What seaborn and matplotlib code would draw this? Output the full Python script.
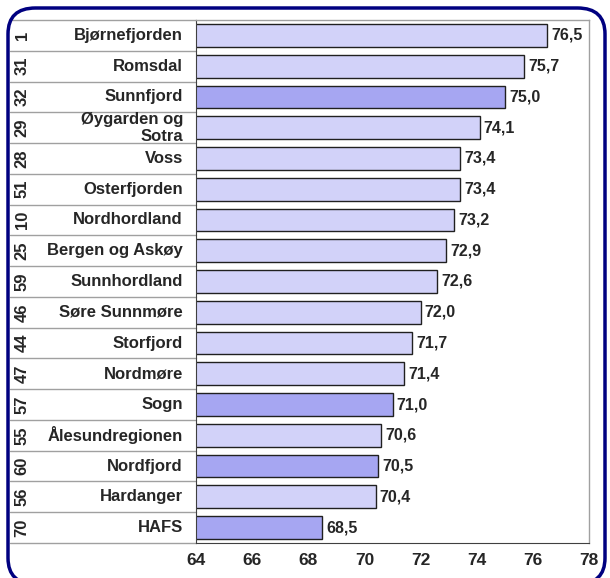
import pandas as pd
import matplotlib
matplotlib.use("Agg")
import matplotlib.pyplot as plt
import matplotlib.transforms as mtransforms
from matplotlib.patches import FancyBboxPatch
import seaborn as sns

# data, top to bottom
regions = ["Bjørnefjorden", "Romsdal", "Sunnfjord", "Øygarden og\nSotra", "Voss",
           "Osterfjorden", "Nordhordland", "Bergen og Askøy", "Sunnhordland",
           "Søre Sunnmøre", "Storfjord", "Nordmøre", "Sogn", "Ålesundregionen",
           "Nordfjord", "Hardanger", "HAFS"]
codes = ["1", "31", "32", "29", "28", "51", "10", "25", "59", "46", "44", "47",
         "57", "55", "60", "56", "70"]
values = [76.5, 75.7, 75.0, 74.1, 73.4, 73.4, 73.2, 72.9, 72.6, 72.0, 71.7,
          71.4, 71.0, 70.6, 70.5, 70.4, 68.5]
highlight = ["Sunnfjord", "Sogn", "Nordfjord", "HAFS"]

light = "#CCCCFF"
dark = "#9999FF"
colors = {r: (dark if r in highlight else light) for r in regions}

df = pd.DataFrame({"region": regions, "code": codes, "value": values})

sns.set_style("white")
plt.rcParams["font.family"] = ["Liberation Sans", "DejaVu Sans"]

fig = plt.figure(figsize=(6.10, 5.78), dpi=100)
ax = fig.add_axes([196 / 610, 1 - 543 / 578, 393 / 610, 523 / 578])

sns.barplot(data=df, x="value", y="region", hue="region", palette=colors,
            order=regions, legend=False, width=0.74, edgecolor="#202020",
            linewidth=1.0, ax=ax)

ax.set_xlim(64, 78)
ax.set_ylim(len(regions) - 0.5, -0.5)
ax.set_xticks(range(64, 79, 2))
ax.set_xticklabels([str(t) for t in range(64, 79, 2)], fontsize=12.5,
                   fontweight="bold")
ax.tick_params(axis="x", direction="out", length=4, width=0.8, pad=3,
               color="#404040")
ax.tick_params(axis="y", length=0)
ax.set_yticklabels([])
ax.set_xlabel("")
ax.set_ylabel("")

for side in ["top", "right"]:
    ax.spines[side].set_color("#A0A0A0")
    ax.spines[side].set_linewidth(1.0)
ax.spines["left"].set_color("#404040")
ax.spines["bottom"].set_color("#404040")

# value labels
for container in ax.containers:
    vals = [f"{b.get_width():.1f}".replace(".", ",") for b in container]
    ax.bar_label(container, labels=vals, padding=3, fontsize=11.5,
                 fontweight="bold")

# label table on the left
trans = mtransforms.blended_transform_factory(ax.transAxes, ax.transData)
x_left = (10 - 196) / 393
for i, (name, code) in enumerate(zip(regions, codes)):
    ax.text((183 - 196) / 393, i, name, transform=trans, ha="right",
            va="center", fontsize=12, fontweight="bold", linespacing=1.15)
    ax.text((22 - 196) / 393, i, code, transform=trans, ha="center",
            va="center", rotation=90, fontsize=12, fontweight="bold")
for i in range(len(regions) + 1):
    ax.plot([x_left, 0], [i - 0.5, i - 0.5], transform=trans,
            color="#A0A0A0", lw=1.0, clip_on=False)

# rounded frame
frame = FancyBboxPatch((8 / 610, -6 / 578), 597 / 610, 576 / 578,
                       boxstyle="round,pad=0,rounding_size=0.045",
                       transform=fig.transFigure, fill=False,
                       edgecolor="#000080", linewidth=2.5, zorder=10)
fig.patches.append(frame)

fig.savefig("out.png", dpi=100)
